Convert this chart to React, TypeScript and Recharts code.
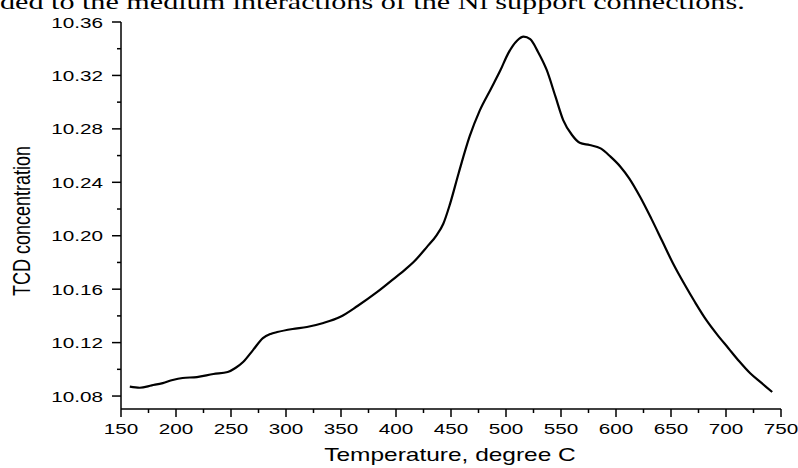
import React from "react";
import { LineChart, Line, XAxis, YAxis } from "recharts";

const temperatures = [
  158, 167, 178, 188, 197, 206, 219, 234, 247, 254, 261, 270, 279, 286, 292, 306, 319, 334, 349, 365,
  383, 401, 408, 416, 428, 437, 443, 449, 457, 467, 476, 486, 495, 502, 510, 516, 522, 529, 537, 545,
  552, 560, 567, 576, 586, 595, 604, 612, 622, 632, 642, 652, 662, 672, 682, 692, 702, 712, 722, 732, 742,
];
const tcdValues = [
  10.087, 10.0862, 10.088, 10.0897, 10.092, 10.0935, 10.0942, 10.0965, 10.098, 10.101, 10.1055, 10.1144,
  10.1234, 10.1265, 10.1279, 10.1302, 10.1317, 10.1347, 10.1391, 10.1474, 10.1579, 10.1698, 10.1745,
  10.1803, 10.1915, 10.2005, 10.209, 10.2235, 10.247, 10.2745, 10.2935, 10.3095, 10.324, 10.3365,
  10.346, 10.349, 10.3471, 10.3378, 10.3241, 10.3041, 10.2866, 10.2754, 10.2696, 10.2679, 10.2654,
  10.2592, 10.2517, 10.243, 10.229, 10.213, 10.196, 10.179, 10.164, 10.15, 10.137, 10.126, 10.116,
  10.106, 10.097, 10.09, 10.083,
];
const xTicks = [
  150, 175, 200, 225, 250, 275, 300, 325, 350, 375, 400, 425, 450, 475, 500, 525, 550, 575, 600, 625,
  650, 675, 700, 725, 750,
];
const xMajorTicks = [150, 200, 250, 300, 350, 400, 450, 500, 550, 600, 650, 700, 750];
const yTicks = [10.08, 10.1, 10.12, 10.14, 10.16, 10.18, 10.2, 10.22, 10.24, 10.26, 10.28, 10.3, 10.32, 10.34, 10.36];
const yMajorTicks = [10.08, 10.12, 10.16, 10.2, 10.24, 10.28, 10.32, 10.36];
const headerText = "ded to the medium interactions of the Ni support connections.";
const xTitle = "Temperature, degree C";
const yTitle = "TCD concentration";

const data = temperatures.map((t, i) => ({ t, v: tcdValues[i] }));

const SANS = "'Liberation Sans', Arial, sans-serif";
const STRETCH = 1.38;

const XTick = (props: any) => {
  const { x, y, payload } = props;
  const major = xMajorTicks.includes(payload.value);
  return (
    <g>
      <line x1={x} x2={x} y1={y} y2={y + (major ? 8 : 4)} stroke="#000" strokeWidth={1.5} />
      {major && (
        <g transform={`translate(${x},${y + 25}) scale(${STRETCH},1)`}>
          <text x={0} y={0} textAnchor="middle" fontFamily={SANS} fontSize={15} fill="#000">
            {payload.value}
          </text>
        </g>
      )}
    </g>
  );
};

const YTick = (props: any) => {
  const { x, y, payload } = props;
  const major = yMajorTicks.some((m) => Math.abs(m - payload.value) < 1e-6);
  return (
    <g>
      <line x1={x} x2={x - (major ? 9 : 4)} y1={y} y2={y} stroke="#000" strokeWidth={1.5} />
      {major && (
        <g transform={`translate(${x - 18},${y + 5.5}) scale(${STRETCH},1)`}>
          <text x={0} y={0} textAnchor="end" fontFamily={SANS} fontSize={15} fill="#000">
            {payload.value.toFixed(2)}
          </text>
        </g>
      )}
    </g>
  );
};

export default function App() {
  return (
    <div style={{ position: "fixed", left: 0, top: 0, width: 798, height: 468, background: "#fff", overflow: "hidden" }}>
      <svg width={798} height={468} style={{ position: "absolute", left: 0, top: 0 }}>
        <g transform={`translate(0,9) scale(1.37,1)`}>
          <text x={0} y={0} fontFamily="'Liberation Serif', 'Times New Roman', serif" fontSize={22} fill="#000">
            {headerText}
          </text>
        </g>
        <g transform={`translate(450,461) scale(1.36,1)`}>
          <text x={0} y={0} textAnchor="middle" fontFamily={SANS} fontSize={18} fill="#000">
            {xTitle}
          </text>
        </g>
        <g transform={`translate(30,221) scale(1.36,1) rotate(-90)`}>
          <text x={0} y={0} textAnchor="middle" fontFamily={SANS} fontSize={18} fill="#000">
            {yTitle}
          </text>
        </g>
      </svg>
      <div style={{ position: "absolute", left: 0, top: 0 }}>
        <LineChart width={798} height={468} data={data} margin={{ top: 22, right: 17, bottom: 29, left: 61 }}>
          <XAxis
            dataKey="t"
            type="number"
            domain={[150, 750]}
            ticks={xTicks}
            interval={0}
            tick={<XTick />}
            tickLine={false}
            tickSize={0}
            tickMargin={0}
            height={30}
            axisLine={{ stroke: "#000", strokeWidth: 1.5 }}
            allowDataOverflow
          />
          <YAxis
            type="number"
            domain={[10.0703, 10.36]}
            ticks={yTicks}
            interval={0}
            tick={<YTick />}
            tickLine={false}
            tickSize={0}
            tickMargin={0}
            width={60}
            axisLine={{ stroke: "#000", strokeWidth: 1.5 }}
            allowDataOverflow
          />
          <Line
            type="monotone"
            dataKey="v"
            stroke="#000"
            strokeWidth={2.2}
            dot={false}
            isAnimationActive={false}
          />
        </LineChart>
      </div>
    </div>
  );
}
